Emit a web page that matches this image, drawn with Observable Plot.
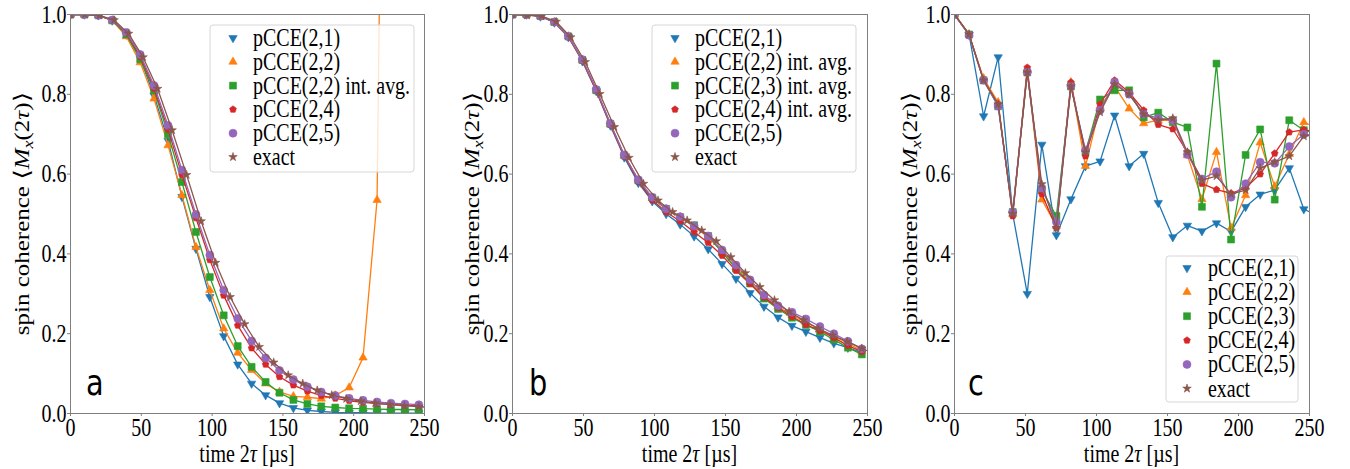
<!DOCTYPE html>
<html><head><meta charset="utf-8">
<script src="https://cdn.jsdelivr.net/npm/d3@7"></script>
<script src="https://cdn.jsdelivr.net/npm/@observablehq/plot@0.6"></script>
<style>
body{margin:0;background:#fff;}
#wrap{position:relative;width:1350px;height:469px;overflow:hidden;background:#fff;}
.panel{position:absolute;top:0;width:450px;height:469px;}
</style></head><body><div id="wrap"></div>
<script>
// ---------- data ----------
const xTicks = [0, 50, 100, 150, 200, 250];
const yTicks = [0, 0.2, 0.4, 0.6, 0.8, 1.0];

// time grids (µs)
const timesAB = [0, 9.8, 19.7, 29.5, 39.4, 49.2, 59, 68.9, 78.7, 88.6, 98.4, 108.2, 118.1, 127.9, 137.8, 147.6, 157.4, 167.3, 177.1, 187, 196.8, 206.6, 216.5, 226.3, 236.2, 246];
const timesExact = [0, 10.25, 20.5, 30.75, 41, 51.25, 61.5, 71.75, 82, 92.25, 102.5, 112.75, 123, 133.25, 143.5, 153.75, 164, 174.25, 184.5, 194.75, 205, 215.25, 225.5, 235.75, 246, 256.25];

// panel a
const namesA = ["pCCE(2,1)", "pCCE(2,2)", "pCCE(2,2) int. avg.", "pCCE(2,4)", "pCCE(2,5)", "exact"];
const a_21 = [1.0, 1.0, 0.998, 0.985, 0.95, 0.89, 0.797, 0.684, 0.543, 0.413, 0.292, 0.194, 0.123, 0.075, 0.046, 0.026, 0.014, 0.008, 0.005, 0.003, 0.002, 0.002, 0.001, 0.001, 0.001, 0.001];
const a_22 = [1.0, 1.0, 0.998, 0.985, 0.945, 0.88, 0.789, 0.672, 0.547, 0.417, 0.309, 0.213, 0.152, 0.109, 0.075, 0.054, 0.043, 0.041, 0.037, 0.045, 0.065, 0.14, 0.535, 3.5];
const a_22avg = [1.0, 1.0, 0.998, 0.985, 0.95, 0.888, 0.81, 0.70, 0.58, 0.455, 0.342, 0.246, 0.169, 0.117, 0.079, 0.052, 0.034, 0.024, 0.018, 0.015, 0.013, 0.012, 0.011, 0.010, 0.010, 0.009];
const a_24 = [1.0, 1.0, 0.998, 0.986, 0.953, 0.895, 0.815, 0.712, 0.598, 0.49, 0.385, 0.296, 0.221, 0.164, 0.123, 0.092, 0.071, 0.056, 0.045, 0.038, 0.032, 0.028, 0.025, 0.023, 0.021, 0.02];
const a_25 = [1.0, 1.0, 0.998, 0.986, 0.955, 0.90, 0.822, 0.722, 0.61, 0.499, 0.397, 0.309, 0.238, 0.182, 0.139, 0.108, 0.085, 0.067, 0.054, 0.045, 0.038, 0.033, 0.029, 0.026, 0.024, 0.022];
const a_exact = [1.0, 1.0, 0.998, 0.986, 0.952, 0.893, 0.814, 0.71, 0.598, 0.482, 0.378, 0.292, 0.224, 0.167, 0.128, 0.096, 0.075, 0.058, 0.046, 0.037, 0.031, 0.026, 0.022, 0.019, 0.017, 0.015];

// panel b
const namesB = ["pCCE(2,1)", "pCCE(2,2) int. avg.", "pCCE(2,3) int. avg.", "pCCE(2,4) int. avg.", "pCCE(2,5)", "exact"];
const b_21 = [1.0, 1.0, 0.995, 0.98, 0.943, 0.883, 0.808, 0.722, 0.642, 0.578, 0.532, 0.5, 0.474, 0.444, 0.412, 0.375, 0.338, 0.302, 0.268, 0.241, 0.22, 0.205, 0.19, 0.176, 0.165, 0.152];
const b_22avg = [1.0, 1.0, 0.996, 0.981, 0.945, 0.886, 0.81, 0.725, 0.647, 0.585, 0.54, 0.512, 0.492, 0.468, 0.442, 0.405, 0.367, 0.33, 0.294, 0.267, 0.247, 0.228, 0.211, 0.194, 0.176, 0.157];
const b_23avg = [1.0, 1.0, 0.996, 0.981, 0.945, 0.886, 0.81, 0.726, 0.647, 0.584, 0.541, 0.513, 0.492, 0.472, 0.445, 0.404, 0.363, 0.326, 0.288, 0.262, 0.24, 0.222, 0.205, 0.185, 0.165, 0.148];
const b_24avg = [1.0, 1.0, 0.996, 0.981, 0.944, 0.885, 0.809, 0.724, 0.645, 0.582, 0.535, 0.505, 0.482, 0.455, 0.428, 0.396, 0.358, 0.325, 0.291, 0.265, 0.243, 0.223, 0.208, 0.19, 0.17, 0.155];
const b_25 = [1.0, 1.0, 0.996, 0.981, 0.945, 0.887, 0.812, 0.727, 0.648, 0.586, 0.542, 0.513, 0.493, 0.47, 0.445, 0.41, 0.372, 0.335, 0.297, 0.27, 0.254, 0.237, 0.218, 0.2, 0.181, 0.162];
const b_exact = [1.0, 0.998, 0.996, 0.982, 0.943, 0.881, 0.801, 0.718, 0.641, 0.576, 0.534, 0.505, 0.484, 0.459, 0.432, 0.392, 0.352, 0.317, 0.284, 0.255, 0.234, 0.213, 0.196, 0.18, 0.163, 0.148];

// panel c
const namesC = ["pCCE(2,1)", "pCCE(2,2)", "pCCE(2,3)", "pCCE(2,4)", "pCCE(2,5)", "exact"];
const c_21 = [1.0, 0.95, 0.745, 0.893, 0.50, 0.30, 0.674, 0.447, 0.537, 0.620, 0.632, 0.747, 0.620, 0.651, 0.528, 0.442, 0.471, 0.457, 0.477, 0.456, 0.518, 0.549, 0.560, 0.615, 0.512, 0.495];
const c_22 = [1.0, 0.95, 0.84, 0.78, 0.50, 0.86, 0.536, 0.47, 0.83, 0.62, 0.77, 0.82, 0.764, 0.727, 0.735, 0.735, 0.647, 0.537, 0.655, 0.465, 0.547, 0.679, 0.569, 0.65, 0.73, 0.715];
const c_23 = [1.0, 0.95, 0.835, 0.77, 0.505, 0.855, 0.56, 0.495, 0.82, 0.655, 0.787, 0.81, 0.81, 0.742, 0.754, 0.73, 0.717, 0.518, 0.877, 0.436, 0.648, 0.712, 0.536, 0.735, 0.71, 0.70];
const c_24 = [1.0, 0.95, 0.835, 0.775, 0.495, 0.867, 0.55, 0.465, 0.83, 0.645, 0.775, 0.835, 0.805, 0.76, 0.724, 0.713, 0.655, 0.576, 0.561, 0.552, 0.565, 0.60, 0.652, 0.705, 0.711, 0.705];
const c_25 = [1.0, 0.948, 0.835, 0.77, 0.505, 0.855, 0.565, 0.48, 0.82, 0.66, 0.76, 0.83, 0.80, 0.75, 0.74, 0.735, 0.649, 0.588, 0.606, 0.542, 0.576, 0.63, 0.627, 0.669, 0.70, 0.695];
const c_exact = [1.0, 0.95, 0.835, 0.775, 0.50, 0.855, 0.575, 0.465, 0.82, 0.655, 0.755, 0.825, 0.80, 0.75, 0.735, 0.74, 0.655, 0.585, 0.595, 0.55, 0.56, 0.615, 0.63, 0.645, 0.695, 0.70];

// ---------- styles ----------
const colors = ["#1f77b4", "#ff7f0e", "#2ca02c", "#d62728", "#9467bd", "#8c564b"];
const SQ3 = Math.sqrt(3);
const triDown = {draw(ctx, size) {
  const y = -Math.sqrt(size / (SQ3 * 3));
  ctx.moveTo(0, -2 * y); ctx.lineTo(-SQ3 * y, y); ctx.lineTo(SQ3 * y, y); ctx.closePath();
}};
const triUp = {draw(ctx, size) {
  const y = -Math.sqrt(size / (SQ3 * 3));
  ctx.moveTo(0, 2 * y); ctx.lineTo(-SQ3 * y, -y); ctx.lineTo(SQ3 * y, -y); ctx.closePath();
}};
const pentagon = {draw(ctx, size) {
  const r = Math.sqrt(size / (2.5 * Math.sin(2 * Math.PI / 5)));
  for (let k = 0; k < 5; k++) {
    const a = -Math.PI / 2 + k * 2 * Math.PI / 5;
    const px = r * Math.cos(a), py = r * Math.sin(a);
    k ? ctx.lineTo(px, py) : ctx.moveTo(px, py);
  }
  ctx.closePath();
}};
const symbols = [triDown, triUp, d3.symbolSquare, pentagon, d3.symbolCircle, d3.symbolStar];
const radii = [3.1, 3.1, 3.9, 3.1, 4.0, 2.7];
const SERIF = "'Liberation Serif', 'DejaVu Serif', serif";
const FS = 25;      // font size
const SQZ = 0.8;    // horizontal squeeze of the reference's glyphs

const panels = [
  {left: 0, mL: 70, mR: 26, names: namesA, values: [a_21, a_22, a_22avg, a_24, a_25, a_exact],
   times: [timesAB, timesAB, timesAB, timesAB, timesAB, timesExact], letter: "a", letterX: 86, yLabX: 29,
   legend: {x: 210, y: 25, w: 204, h: 147, mx: 233, tx: 253, y0: 38, dy: 23.8}},
  {left: 450, mL: 62, mR: 33, names: namesB, values: [b_21, b_22avg, b_23avg, b_24avg, b_25, b_exact],
   times: [timesAB, timesAB, timesAB, timesAB, timesAB, timesExact], letter: "b", letterX: 79, yLabX: 29,
   legend: {x: 202, y: 25, w: 204, h: 147, mx: 225, tx: 245, y0: 38, dy: 23.8}},
  {left: 900, mL: 54, mR: 41, names: namesC, values: [c_21, c_22, c_23, c_24, c_25, c_exact],
   times: [timesExact, timesExact, timesExact, timesExact, timesExact, timesExact], letter: "c", letterX: 68, yLabX: 17,
   legend: {x: 266, y: 256, w: 132, h: 146, mx: 287, tx: 308, y0: 268, dy: 24.1}}
];

const wrap = document.getElementById("wrap");
for (const p of panels) {
  const marks = [];
  p.values.forEach((vals, si) => {
    const data = vals.map((v, i) => ({t: p.times[si][i], v, s: p.names[si]}));
    marks.push(Plot.line(data, {x: "t", y: "v", stroke: colors[si], strokeWidth: 1.3, clip: true}));
    marks.push(Plot.dot(data, {x: "t", y: "v", fill: colors[si], stroke: colors[si], strokeWidth: 0.6,
      symbol: symbols[si], r: radii[si], clip: true}));
  });
  const svg = Plot.plot({
    width: 450, height: 469,
    marginLeft: p.mL, marginRight: p.mR, marginTop: 14, marginBottom: 56,
    x: {domain: [0, 250]}, y: {domain: [0, 1]},
    style: {fontFamily: SERIF, fontSize: FS + "px", background: "transparent", color: "black", overflow: "visible"},
    marks: [
      ...marks,
      Plot.frame({stroke: "#7f7f7f", strokeWidth: 1}),
      Plot.axisX({ticks: xTicks, tickFormat: d => String(d), tickSize: 3, tickPadding: 2, label: null,
        stroke: "#7f7f7f", fill: "black", fontSize: FS}),
      Plot.axisY({ticks: yTicks, tickFormat: d => d.toFixed(1), tickSize: 3, tickPadding: 1, label: null,
        stroke: "#7f7f7f", fill: "black", fontSize: FS})
    ]
  });
  const div = document.createElement("div");
  div.className = "panel";
  div.style.left = p.left + "px";
  div.appendChild(svg);
  wrap.appendChild(div);

  // squeeze tick labels horizontally like the reference
  svg.querySelectorAll('g[aria-label$="tick label"] text').forEach(t => {
    const w = t.getComputedTextLength();
    t.setAttribute("textLength", (w * SQZ).toFixed(2));
    t.setAttribute("lengthAdjust", "spacingAndGlyphs");
  });

  const s = d3.select(svg);
  const cx = (p.mL + (450 - p.mR)) / 2;
  // y label
  const yl = s.append("g").attr("transform", `translate(${p.yLabX},${(14 + 413) / 2}) rotate(-90) scale(1,${SQZ})`)
    .append("text").attr("text-anchor", "middle").attr("font-family", SERIF).attr("font-size", FS).attr("fill", "black");
  yl.append("tspan").text("spin coherence ");
  yl.append("tspan").attr("font-family", "'DejaVu Serif', serif").attr("font-size", FS + 2).text("⟨");
  yl.append("tspan").attr("font-style", "italic").text("M");
  yl.append("tspan").attr("font-style", "italic").attr("font-size", 18).attr("dy", 5).text("x");
  yl.append("tspan").attr("dy", -5).text("(2");
  yl.append("tspan").attr("font-style", "italic").text("τ");
  yl.append("tspan").text(")");
  yl.append("tspan").attr("font-family", "'DejaVu Serif', serif").attr("font-size", FS + 2).text("⟩");
  // x label
  const xl = s.append("g").attr("transform", `translate(${cx},462) scale(${SQZ},1)`)
    .append("text").attr("text-anchor", "middle").attr("font-family", SERIF).attr("font-size", FS).attr("fill", "black");
  xl.append("tspan").text("time 2");
  xl.append("tspan").attr("font-style", "italic").text("τ");
  xl.append("tspan").text(" [µs]");
  // panel letter
  s.append("g").attr("transform", `translate(${p.letterX},395) scale(${SQZ},1)`)
    .append("text").attr("text-anchor", "start").attr("font-family", "'DejaVu Sans', sans-serif").attr("font-size", 36).attr("fill", "black").text(p.letter);
  // legend
  const L = p.legend;
  const lg = s.append("g").attr("aria-label", "legend");
  lg.append("rect").attr("x", L.x).attr("y", L.y).attr("width", L.w).attr("height", L.h).attr("rx", 3)
    .attr("fill", "white").attr("fill-opacity", 0.8).attr("stroke", "#d6d6d6").attr("stroke-width", 1);
  p.names.forEach((name, i) => {
    const yy = L.y0 + i * L.dy;
    lg.append("path").attr("d", d3.symbol(symbols[i], Math.PI * radii[i] * radii[i])())
      .attr("transform", `translate(${L.mx},${yy})`).attr("fill", colors[i]).attr("stroke", colors[i]).attr("stroke-width", 0.6);
    lg.append("g").attr("transform", `translate(${L.tx},${yy + 8}) scale(${SQZ},1)`)
      .append("text").attr("text-anchor", "start").attr("font-family", SERIF).attr("font-size", FS).attr("fill", "black").text(name);
  });
}
</script></body></html>
